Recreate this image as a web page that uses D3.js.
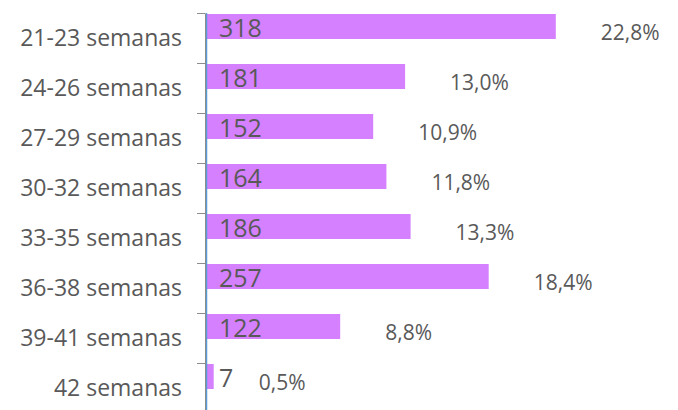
<!DOCTYPE html>
<html><head><meta charset="utf-8">
<script src="https://cdn.jsdelivr.net/npm/d3@7"></script>
<style>
html,body{margin:0;padding:0;background:#fff;}
svg{display:block;}
text{font-family:"Open Sans",sans-serif;}
</style></head>
<body>
<script>
const categories = ["21-23 semanas","24-26 semanas","27-29 semanas","30-32 semanas","33-35 semanas","36-38 semanas","39-41 semanas","42 semanas"];
const counts = [318,181,152,164,186,257,122,7];
const percents = ["22,8%","13,0%","10,9%","11,8%","13,3%","18,4%","8,8%","0,5%"];

const W = 678, H = 410;
const svg = d3.select("body").append("svg").attr("width", W).attr("height", H);

const axisX = 205;
const x = d3.scaleLinear().domain([0, 400]).range([axisX + 1, axisX + 1 + 440]);
const y = d3.scaleBand().domain(categories).range([13, 413]).padding(0);

// bars
svg.selectAll("rect.bar").data(categories).enter().append("rect")
  .attr("class","bar")
  .attr("x", x(0))
  .attr("y", d => y(d) + 1)
  .attr("width", (d,i) => x(counts[i]) - x(0))
  .attr("height", 25)
  .attr("fill", "#D580FF");

// blue axis line
svg.append("line").attr("x1", axisX + 1.5).attr("x2", axisX + 1.5)
  .attr("y1", 13).attr("y2", H).attr("stroke", "#5B9BD5").attr("stroke-width", 1.5);

// grey axis with ticks at band boundaries
const yAxis = d3.axisLeft(d3.scaleLinear().domain([0, categories.length]).range([13, 413]))
  .ticks(categories.length).tickFormat("").tickSizeOuter(0).tickSizeInner(8);
const ga = svg.append("g").attr("transform", `translate(${axisX},0)`).call(yAxis);
ga.selectAll("path,line").attr("stroke", "#8C8C8C").attr("stroke-width", 1);

// category labels
svg.selectAll("text.cat").data(categories).enter().append("text")
  .attr("class","cat")
  .attr("x", 182)
  .attr("y", d => y(d) + y.bandwidth()/2 + 8)
  .attr("text-anchor","end")
  .attr("font-size", 23)
  .attr("fill", "#595959")
  .text(d => d);

// value labels inside bars
svg.selectAll("text.val").data(categories).enter().append("text")
  .attr("class","val")
  .attr("x", x(0) + 13)
  .attr("y", d => y(d) + 24)
  .attr("font-size", 25)
  .attr("fill", "#595959")
  .text((d,i) => counts[i]);

// percentage labels
svg.selectAll("text.pct").data(categories).enter().append("text")
  .attr("class","pct")
  .attr("x", (d,i) => x(counts[i]) + 45)
  .attr("y", d => y(d) + 26.5)
  .attr("font-size", 21)
  .attr("fill", "#595959")
  .text((d,i) => percents[i]);
</script>
</body></html>
